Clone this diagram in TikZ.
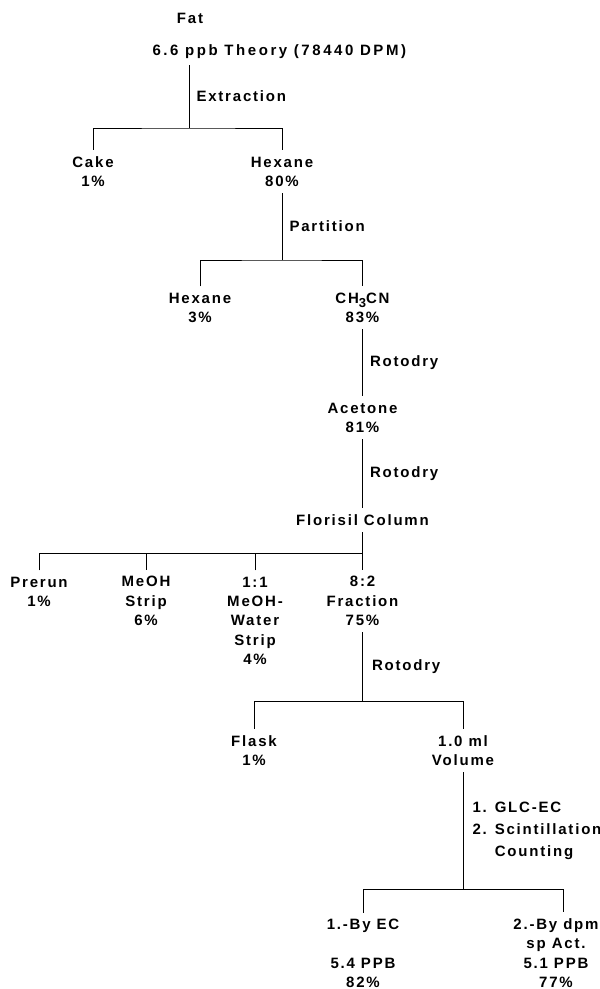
\documentclass[tikz,border=0pt]{standalone}
\usepackage{fontspec}
\setmainfont{Liberation Sans}[UprightFont={* Bold}, BoldFont={* Bold}, LetterSpace=12]
\begin{document}
\begin{tikzpicture}[x=1pt,y=-1pt,line width=1pt,
  txt/.style={font=\fontsize{15}{19.3}\selectfont\bfseries, inner xsep=0pt, inner ysep=6pt, align=center, anchor=base},
  proc/.style={font=\fontsize{15}{22}\selectfont\bfseries, inner sep=0pt, midway, anchor=west, xshift=7pt, align=left}]
\fill[white] (0,0) rectangle (600,989);
\useasboundingbox (0,0) rectangle (600,989);
\clip (0,0) rectangle (600,989);
% nodes (y = baseline of the last line)
\node[txt] (fat) at (190,23.5) {Fat};
\node[txt,anchor=base west] (theory) at (152,55.5) {\addfontfeatures{LetterSpace=17}6.6 ppb Theory (78440 DPM)};
\node[txt] (cake) at (93,186.5) {Cake\\1\%};
\node[txt] (hex1) at (282,186.5) {Hexane\\80\%};
\node[txt] (hex2) at (200,322.5) {Hexane\\3\%};
\node[txt] (ch3cn) at (362.5,322.5) {CH\raisebox{-4pt}{\fontsize{13}{13}\selectfont 3}CN\\83\%};
\node[txt] (acetone) at (362.5,432.5) {Acetone\\81\%};
\node[txt] (florisil) at (362.5,525.5) {Florisil Column};
\node[txt] (prerun) at (39,606.5) {Prerun\\1\%};
\node[txt] (meoh) at (146,625.5) {MeOH\\Strip\\6\%};
\node[txt] (water) at (255,664.5) {1:1\\MeOH-\\Water\\Strip\\4\%};
\node[txt] (fraction) at (362.5,625.5) {8:2\\Fraction\\75\%};
\node[txt] (flask) at (254,765.5) {Flask\\1\%};
\node[txt] (volume) at (463,765.5) {1.0 ml\\Volume};
\node[txt] (byec) at (363,987.5) {1.-By EC\\\mbox{}\\5.4 PPB\\82\%};
\node[txt] (bydpm) at (556,987.5) {2.-By dpm\\sp Act.\\5.1 PPB\\77\%};
% junctions
\coordinate (j1) at (189,128);
\coordinate (j2) at (hex1 |- 0,260);
\coordinate (j4) at (florisil |- 0,553);
\coordinate (j5) at (fraction |- 0,701);
\coordinate (j6) at (volume |- 0,889);
\coordinate (j7) at (563,889);
% connectors
\draw (theory.south -| j1) -- node[proc] {Extraction} (j1);
\draw (cake) |- (j1) -| (hex1);
\draw (hex1) -- node[proc] {Partition} (j2);
\draw (hex2) |- (j2) -| (ch3cn);
\draw (ch3cn) -- node[proc] {Rotodry} (acetone);
\draw (acetone) -- node[proc] {Rotodry} (florisil);
\draw (florisil) -- (j4);
\draw (prerun) |- (j4) -| (fraction);
\draw (meoh) -- (meoh |- j4);
\draw (water) -- (water |- j4);
\draw (fraction) -- node[proc,xshift=2pt] {Rotodry} (j5);
\draw (flask) |- (j5) -| (volume);
\draw (volume) -- node[proc,xshift=2pt] {1. GLC-EC\\2. Scintillation\\\phantom{2. }Counting} (j6);
\draw (byec) |- (j6) -- (j7) -- (j7 |- bydpm.north);
\end{tikzpicture}
\end{document}
